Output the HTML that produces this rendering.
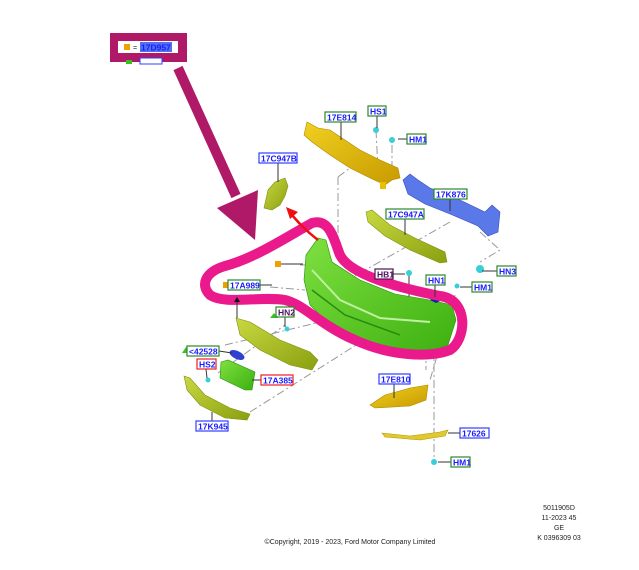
<!DOCTYPE html>
<html><head><meta charset="utf-8"><style>
html,body{margin:0;padding:0;background:#fff;}
svg{display:block;}
.lb{font-family:"Liberation Sans",sans-serif;font-size:8.5px;font-weight:bold;fill:#1a1aff;}
.d{stroke:#999;stroke-width:1;fill:none;stroke-dasharray:8,3,2,3;}
.l{stroke:#333;stroke-width:1;fill:none;}
.t{font-family:"Liberation Sans",sans-serif;font-size:7px;fill:#222;}
</style></head><body>
<svg width="639" height="570" viewBox="0 0 639 570" xmlns="http://www.w3.org/2000/svg">
<defs>
<linearGradient id="gy" x1="0" y1="0" x2="1" y2="1"><stop offset="0" stop-color="#f0d020"/><stop offset="1" stop-color="#c89a00"/></linearGradient>
<linearGradient id="gg" x1="0" y1="0" x2="1" y2="1"><stop offset="0" stop-color="#7ee040"/><stop offset="1" stop-color="#3cb010"/></linearGradient>
<linearGradient id="go" x1="0" y1="0" x2="1" y2="1"><stop offset="0" stop-color="#c8d840"/><stop offset="1" stop-color="#8aa010"/></linearGradient>
</defs>

<!-- dash-dot leader lines -->
<path class="d" d="M338 177 L338 250"/>
<path class="d" d="M376 130 L378 170"/>
<path class="d" d="M392 145 L392 170"/>
<path class="d" d="M338 177 L350 168"/>
<path class="d" d="M450 222 L330 290"/>
<path class="d" d="M480 232 L500 250 L480 262"/>
<path class="d" d="M270 287 L305 290"/>
<path class="d" d="M300 265 L305 265"/>
<path class="d" d="M225 345 L370 310"/>
<path class="d" d="M218 373 L285 325"/>
<path class="d" d="M250 412 L380 330"/>
<path class="d" d="M426 350 L426 370"/>
<path class="d" d="M434 300 L434 460"/>
<path class="d" d="M455 295 L430 380"/>
<path class="l" d="M409 274 L409 300"/>

<!-- parts -->
<path d="M307 122 L318 128 L330 130 L345 140 L360 150 L380 160 L398 168 L400 178 L392 180 L385 185 L370 178 L350 168 L330 155 L312 142 L304 135 Z" fill="url(#gy)" stroke="#b08a00" stroke-width="0.6"/>
<rect x="380" y="182" width="6" height="7" fill="#e8c000"/>
<path d="M403 180 L410 174 L418 180 L430 188 L460 200 L485 212 L492 205 L500 212 L498 232 L488 236 L478 226 L450 214 L425 204 L408 194 Z" fill="#5a78e8" stroke="#3550c0" stroke-width="0.6"/>
<path d="M366 212 L372 210 L390 225 L415 238 L445 252 L447 262 L440 263 L410 250 L385 236 L368 222 Z" fill="url(#go)" stroke="#809010" stroke-width="0.6"/>
<path d="M268 190 L275 182 L285 178 L288 186 L285 196 L280 205 L272 210 L264 208 Z" fill="url(#go)" stroke="#809010" stroke-width="0.6"/>

<!-- bumper -->
<path d="M318 238 L326 240 L332 262 L360 280 L395 294 L430 300 L452 305 L456 320 L448 345 L430 352 L400 350 L365 340 L330 325 L310 305 L304 280 L306 255 Z" fill="url(#gg)" stroke="#2a9010" stroke-width="0.6"/>
<path d="M312 270 L340 300 L380 318 L430 322" stroke="#bff0a0" stroke-width="2" fill="none"/>
<path d="M312 290 L345 315 L400 335" stroke="#2a8a10" stroke-width="1.5" fill="none"/>

<!-- grilles -->
<path d="M236 318 L250 322 L280 340 L310 352 L318 360 L312 370 L290 365 L260 350 L240 335 Z" fill="url(#go)" stroke="#809010" stroke-width="0.6"/>
<path d="M221 362 L228 360 L255 372 L252 390 L245 390 L220 378 Z" fill="url(#gg)" stroke="#2a9010" stroke-width="0.6"/>
<path d="M184 376 L190 378 L205 395 L230 408 L250 414 L247 420 L225 418 L200 405 L187 390 Z" fill="url(#go)" stroke="#809010" stroke-width="0.6"/>
<ellipse cx="237" cy="355" rx="8" ry="4" transform="rotate(25 237 355)" fill="#3040d0"/>
<path d="M370 405 L385 395 L410 388 L428 385 L426 400 L410 406 L375 408 Z" fill="url(#gy)" stroke="#b08a00" stroke-width="0.6"/>
<path d="M382 433 L410 436 L440 432 L448 430 L445 436 L420 440 L385 437 Z" fill="#e0c830" stroke="#b09a00" stroke-width="0.6"/>

<!-- fasteners -->
<g fill="#38d0d8"><circle cx="376" cy="130" r="3"/><circle cx="392" cy="140" r="3"/><circle cx="409" cy="273" r="3"/><circle cx="480" cy="269" r="4"/><circle cx="457" cy="286" r="2.5"/><circle cx="287" cy="329" r="2.5"/><circle cx="208" cy="380" r="2.5"/><circle cx="434" cy="462" r="3"/></g>
<path d="M430 300 L436 295 L442 300 L436 303 Z" fill="#1020b0"/>

<!-- magenta loop -->
<path d="M312 223 C330 218 334 240 340 255 C350 275 400 288 440 296 C470 300 466 340 450 350 C430 358 390 356 355 340 C320 325 305 305 285 300 C260 296 225 305 210 295 C200 285 205 272 225 266 C255 258 285 238 312 223 Z" fill="none" stroke="#ea1a8c" stroke-width="10" stroke-linejoin="round"/>

<!-- red arrow -->
<path d="M318 240 C305 230 298 222 292 215" stroke="#ee1010" stroke-width="2.5" fill="none"/>
<path d="M286 207 L298 212 L290 219 Z" fill="#ee1010"/>

<!-- big magenta arrow -->
<path d="M178 68 L236 196" stroke="#b01868" stroke-width="10"/>
<path d="M217 208 L258 190 L255 240 Z" fill="#b01868"/>

<!-- leader lines to labels -->
<path class="l" d="M278 163 L278 182 M341 122 L341 140 M377 116 L377 128 M398 139 L407 139 M450 199 L450 211 M405 219 L405 235 M482 271 L497 271 M393 274 L405 274 M435 285 L435 297 M460 287 L472 287 M260 285 L272 285 M285 317 L285 327 M219 351 L232 353 M206 369 L207 378 M252 380 L261 380 M394 384 L394 398 M212 421 L212 412 M448 433 L460 433 M438 462 L451 462 M279 264 L303 264 M237 300 L237 318"/>
<rect x="275" y="261" width="6" height="6" fill="#f0a000"/>
<rect x="223" y="282" width="6" height="6" fill="#f0a000"/>
<path d="M234 302 L237 297 L240 302 Z" fill="#111"/>
<path d="M270 318 L274 313 L278 318 Z" fill="#3ac020"/>
<path d="M182 353 L186 347 L190 353 Z" fill="#3ac020"/>

<!-- labels -->
<g stroke-width="1.2" fill="#fff">
<rect x="259" y="153" width="38" height="10" stroke="#3040ff"/>
<rect x="325" y="112" width="31" height="10" stroke="#2a8a2a"/>
<rect x="368" y="106" width="18" height="10" stroke="#2a8a2a"/>
<rect x="407" y="134" width="19" height="10" stroke="#2a8a2a"/>
<rect x="434" y="189" width="33" height="10" stroke="#2a8a2a"/>
<rect x="386" y="209" width="38" height="10" stroke="#2a8a2a"/>
<rect x="497" y="266" width="19" height="10" stroke="#2a8a2a"/>
<rect x="375" y="269" width="18" height="10" stroke="#501050"/>
<rect x="426" y="275" width="19" height="10" stroke="#2a8a2a"/>
<rect x="472" y="282" width="20" height="10" stroke="#2a8a2a"/>
<rect x="228" y="280" width="32" height="10" stroke="#2a8a2a"/>
<rect x="276" y="307" width="18" height="10" stroke="#2a8a2a"/>
<rect x="187" y="346" width="32" height="10" stroke="#2a8a2a"/>
<rect x="197" y="359" width="19" height="10" stroke="#ee2020"/>
<rect x="261" y="375" width="32" height="10" stroke="#ee2020"/>
<rect x="379" y="374" width="31" height="10" stroke="#3040ff"/>
<rect x="196" y="421" width="32" height="10" stroke="#3040ff"/>
<rect x="460" y="428" width="29" height="10" stroke="#3040ff"/>
<rect x="451" y="457" width="19" height="10" stroke="#2a8a2a"/>
</g>
<g class="lb">
<text x="261" y="161.5">17C947B</text>
<text x="327" y="120.5">17E814</text>
<text x="370" y="114.5">HS1</text>
<text x="409" y="142.5">HM1</text>
<text x="436" y="197.5">17K876</text>
<text x="388" y="217.5">17C947A</text>
<text x="499" y="274.5">HN3</text>
<text x="377" y="277.5" fill="#501060">HB1</text>
<text x="428" y="283.5">HN1</text>
<text x="474" y="290.5">HM1</text>
<text x="230" y="288.5">17A989</text>
<text x="278" y="315.5" fill="#501060">HN2</text>
<text x="189" y="354.5">&lt;42528</text>
<text x="199" y="367.5">HS2</text>
<text x="263" y="383.5">17A385</text>
<text x="381" y="382.5">17E810</text>
<text x="198" y="429.5">17K945</text>
<text x="462" y="436.5">17626</text>
<text x="453" y="465.5">HM1</text>
</g>

<!-- legend -->
<rect x="110" y="33" width="77" height="29" fill="#b01868"/>
<rect x="118" y="41" width="60" height="12" fill="#fff"/>
<rect x="124" y="44" width="6" height="6" fill="#f0a000"/>
<text x="133" y="50" class="t" font-size="8">=</text>
<rect x="140" y="42" width="32" height="10" fill="#5070f0"/>
<text x="141" y="50.5" class="lb" fill="#2030c0">17D957</text>
<rect x="126" y="60" width="6" height="4" fill="#3ac020"/>
<rect x="140" y="58" width="22" height="6" fill="#fff" stroke="#3040ff"/>

<!-- footer -->
<text class="t" x="559" y="510" text-anchor="middle">5011905D</text>
<text class="t" x="559" y="520" text-anchor="middle">11-2023 45</text>
<text class="t" x="559" y="530" text-anchor="middle">GE</text>
<text class="t" x="559" y="540" text-anchor="middle">K 0396309 03</text>
<text class="t" x="350" y="544" text-anchor="middle">©Copyright, 2019 - 2023, Ford Motor Company Limited</text>
</svg>
</body></html>
